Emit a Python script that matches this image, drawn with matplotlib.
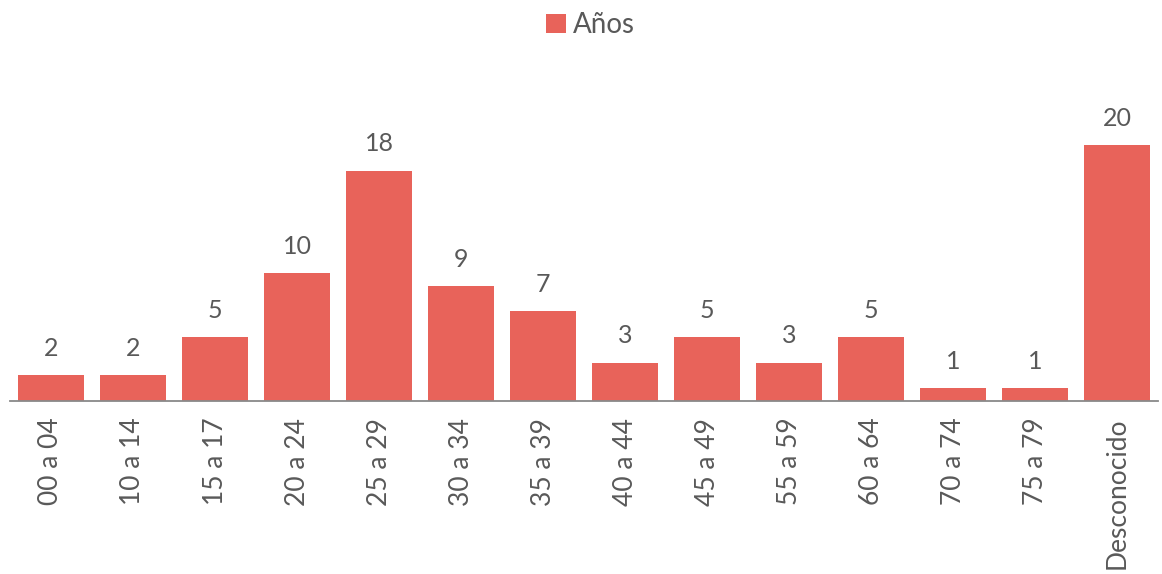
import matplotlib.pyplot as plt
import numpy as np

plt.rcParams['font.family'] = ['Lato', 'DejaVu Sans']

categories = ['00 a 04', '10 a 14', '15 a 17', '20 a 24', '25 a 29', '30 a 34',
              '35 a 39', '40 a 44', '45 a 49', '55 a 59', '60 a 64', '70 a 74',
              '75 a 79', 'Desconocido']
values = [2, 2, 5, 10, 18, 9, 7, 3, 5, 3, 5, 1, 1, 20]

bar_colour = '#E8635A'
text_colour = '#595959'

fig = plt.figure(figsize=(11.62, 5.74), dpi=100)
ax = fig.add_axes([0.0086, 0.3014, 0.988, 0.5575])

x = np.arange(len(categories))
bars = ax.bar(x, values, width=0.8, color=bar_colour, label='Años')

for b, v in zip(bars, values):
    ax.annotate(str(v), xy=(b.get_x() + b.get_width() / 2, v),
                xytext=(0, 11), textcoords='offset points',
                ha='center', va='bottom', fontsize=18, color=text_colour)

ax.set_xlim(-0.5, len(categories) - 0.5)
ax.set_ylim(0, 25)
ax.set_xticks(x)
ax.set_xticklabels(categories, rotation=90, fontsize=19, color=text_colour)
ax.tick_params(axis='x', length=0, pad=12)
ax.set_yticks([])

for side in ('left', 'right', 'top'):
    ax.spines[side].set_visible(False)
ax.spines['bottom'].set_color('#898989')
ax.spines['bottom'].set_linewidth(1.3)

fig.legend(loc='upper center', bbox_to_anchor=(0.508, 1.022), frameon=False,
           fontsize=20, handlelength=0.7, handleheight=0.7, handletextpad=0.25,
           labelcolor=text_colour)

fig.savefig('out.png', dpi=100)
